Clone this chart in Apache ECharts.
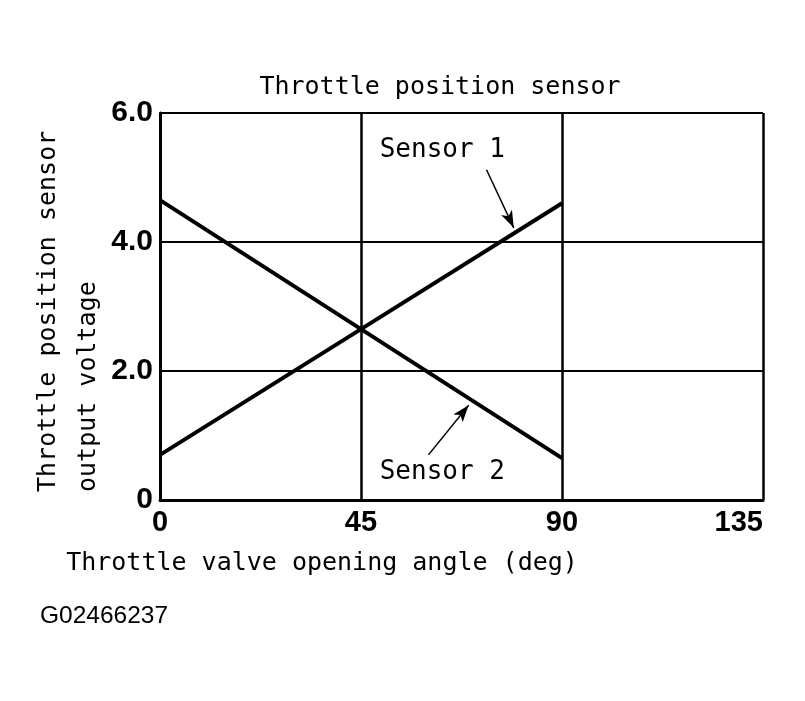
<!DOCTYPE html>
<html>
<head>
<meta charset="utf-8">
<script src="https://cdn.jsdelivr.net/npm/echarts@6/dist/echarts.min.js"></script>
<style>
html,body{margin:0;padding:0;background:#fff;}
#chart{width:805px;height:701px;}
</style>
</head>
<body>
<div id="chart"></div>
<script>
// ---- data ----
const angles = [0, 45, 90];
const sensor1 = [0.70, 2.65, 4.60];
const sensor2 = [4.65, 2.65, 0.65];
const seriesNames = ['Sensor 1', 'Sensor 2'];
const xTickValues = [0, 45, 90, 135];
const yTickLabels = ['0', '2.0', '4.0', '6.0'];
// annotation anchors in data space: [labelCenter, arrowTail, arrowHead]
const sensor1Note = [[63.2, 5.43], [73.1, 5.12], [79.2, 4.22]];
const sensor2Note = [[63.2, 0.43], [60.1, 0.70], [69.1, 1.47]];
const titleText = 'Throttle position sensor';
const xName = 'Throttle valve opening angle (deg)';
const yName = 'Throttle position sensor\noutput voltage';
const figId = 'G02466237';

const mono = 'DejaVu Sans Mono';
const chart = echarts.init(document.getElementById('chart'), null, {renderer: 'canvas'});

function pairs(xs, ys) { return xs.map((x, i) => [x, ys[i]]); }
function note(name, n) {
  return {
    markLine: {
      silent: true, animation: false,
      symbol: ['none', 'arrow'], symbolSize: [9, 17],
      label: {show: false},
      lineStyle: {color: '#000', width: 1.5, type: 'solid'},
      data: [[{coord: n[1]}, {coord: n[2]}]]
    },
    markPoint: {
      silent: true, animation: false,
      symbol: 'circle', symbolSize: 0,
      label: {show: true, position: 'inside', formatter: p => p.name,
              color: '#000', fontFamily: mono, fontSize: 26},
      data: [{name: name, coord: n[0]}]
    }
  };
}

const lineStyle = {color: '#000', width: 4};
chart.setOption({
  animation: false,
  backgroundColor: '#fff',
  title: {
    text: titleText, left: 440, top: 75, padding: 0, textAlign: 'center',
    textStyle: {fontFamily: mono, fontSize: 25, fontWeight: 'normal', color: '#000'}
  },
  grid: {left: 160, top: 113, right: 42, bottom: 201, containLabel: false},
  xAxis: {
    type: 'value', min: 0, max: 135, interval: 45,
    axisLine: {lineStyle: {color: '#000', width: 3}},
    axisTick: {show: false},
    splitLine: {lineStyle: {color: '#000', width: 2.5}},
    axisLabel: {
      color: '#000', fontFamily: 'Liberation Sans', fontWeight: 'bold', fontSize: 29,
      margin: 8, alignMaxLabel: 'right',
      formatter: v => String(xTickValues[xTickValues.indexOf(v)])
    }
  },
  yAxis: {
    type: 'value', min: 0, max: 6, interval: 2,
    axisLine: {lineStyle: {color: '#000', width: 3}},
    axisTick: {show: false},
    splitLine: {lineStyle: {color: '#000', width: 2}},
    axisLabel: {
      color: '#000', fontFamily: 'Liberation Sans', fontWeight: 'bold', fontSize: 30,
      margin: 7,
      formatter: (v, i) => yTickLabels[i]
    }
  },
  graphic: [
    {type: 'text', x: 68, y: 492, rotation: Math.PI / 2,
     style: {text: yName, fontFamily: mono, fontSize: 25, lineHeight: 40,
             fill: '#000', align: 'left', verticalAlign: 'middle'}},
    {type: 'text', x: 322, y: 563,
     style: {text: xName, fontFamily: mono, fontSize: 25,
             fill: '#000', align: 'center', verticalAlign: 'middle'}},
    {type: 'text', x: 40, y: 616,
     style: {text: figId, fontFamily: 'Liberation Sans', fontSize: 24.5,
             fill: '#000', align: 'left', verticalAlign: 'middle'}}
  ],
  series: [
    Object.assign({type: 'line', name: seriesNames[0], data: pairs(angles, sensor1),
      symbol: 'none', lineStyle: lineStyle, z: 5}, note(seriesNames[0], sensor1Note)),
    Object.assign({type: 'line', name: seriesNames[1], data: pairs(angles, sensor2),
      symbol: 'none', lineStyle: lineStyle, z: 5}, note(seriesNames[1], sensor2Note))
  ]
});
</script>
</body>
</html>
